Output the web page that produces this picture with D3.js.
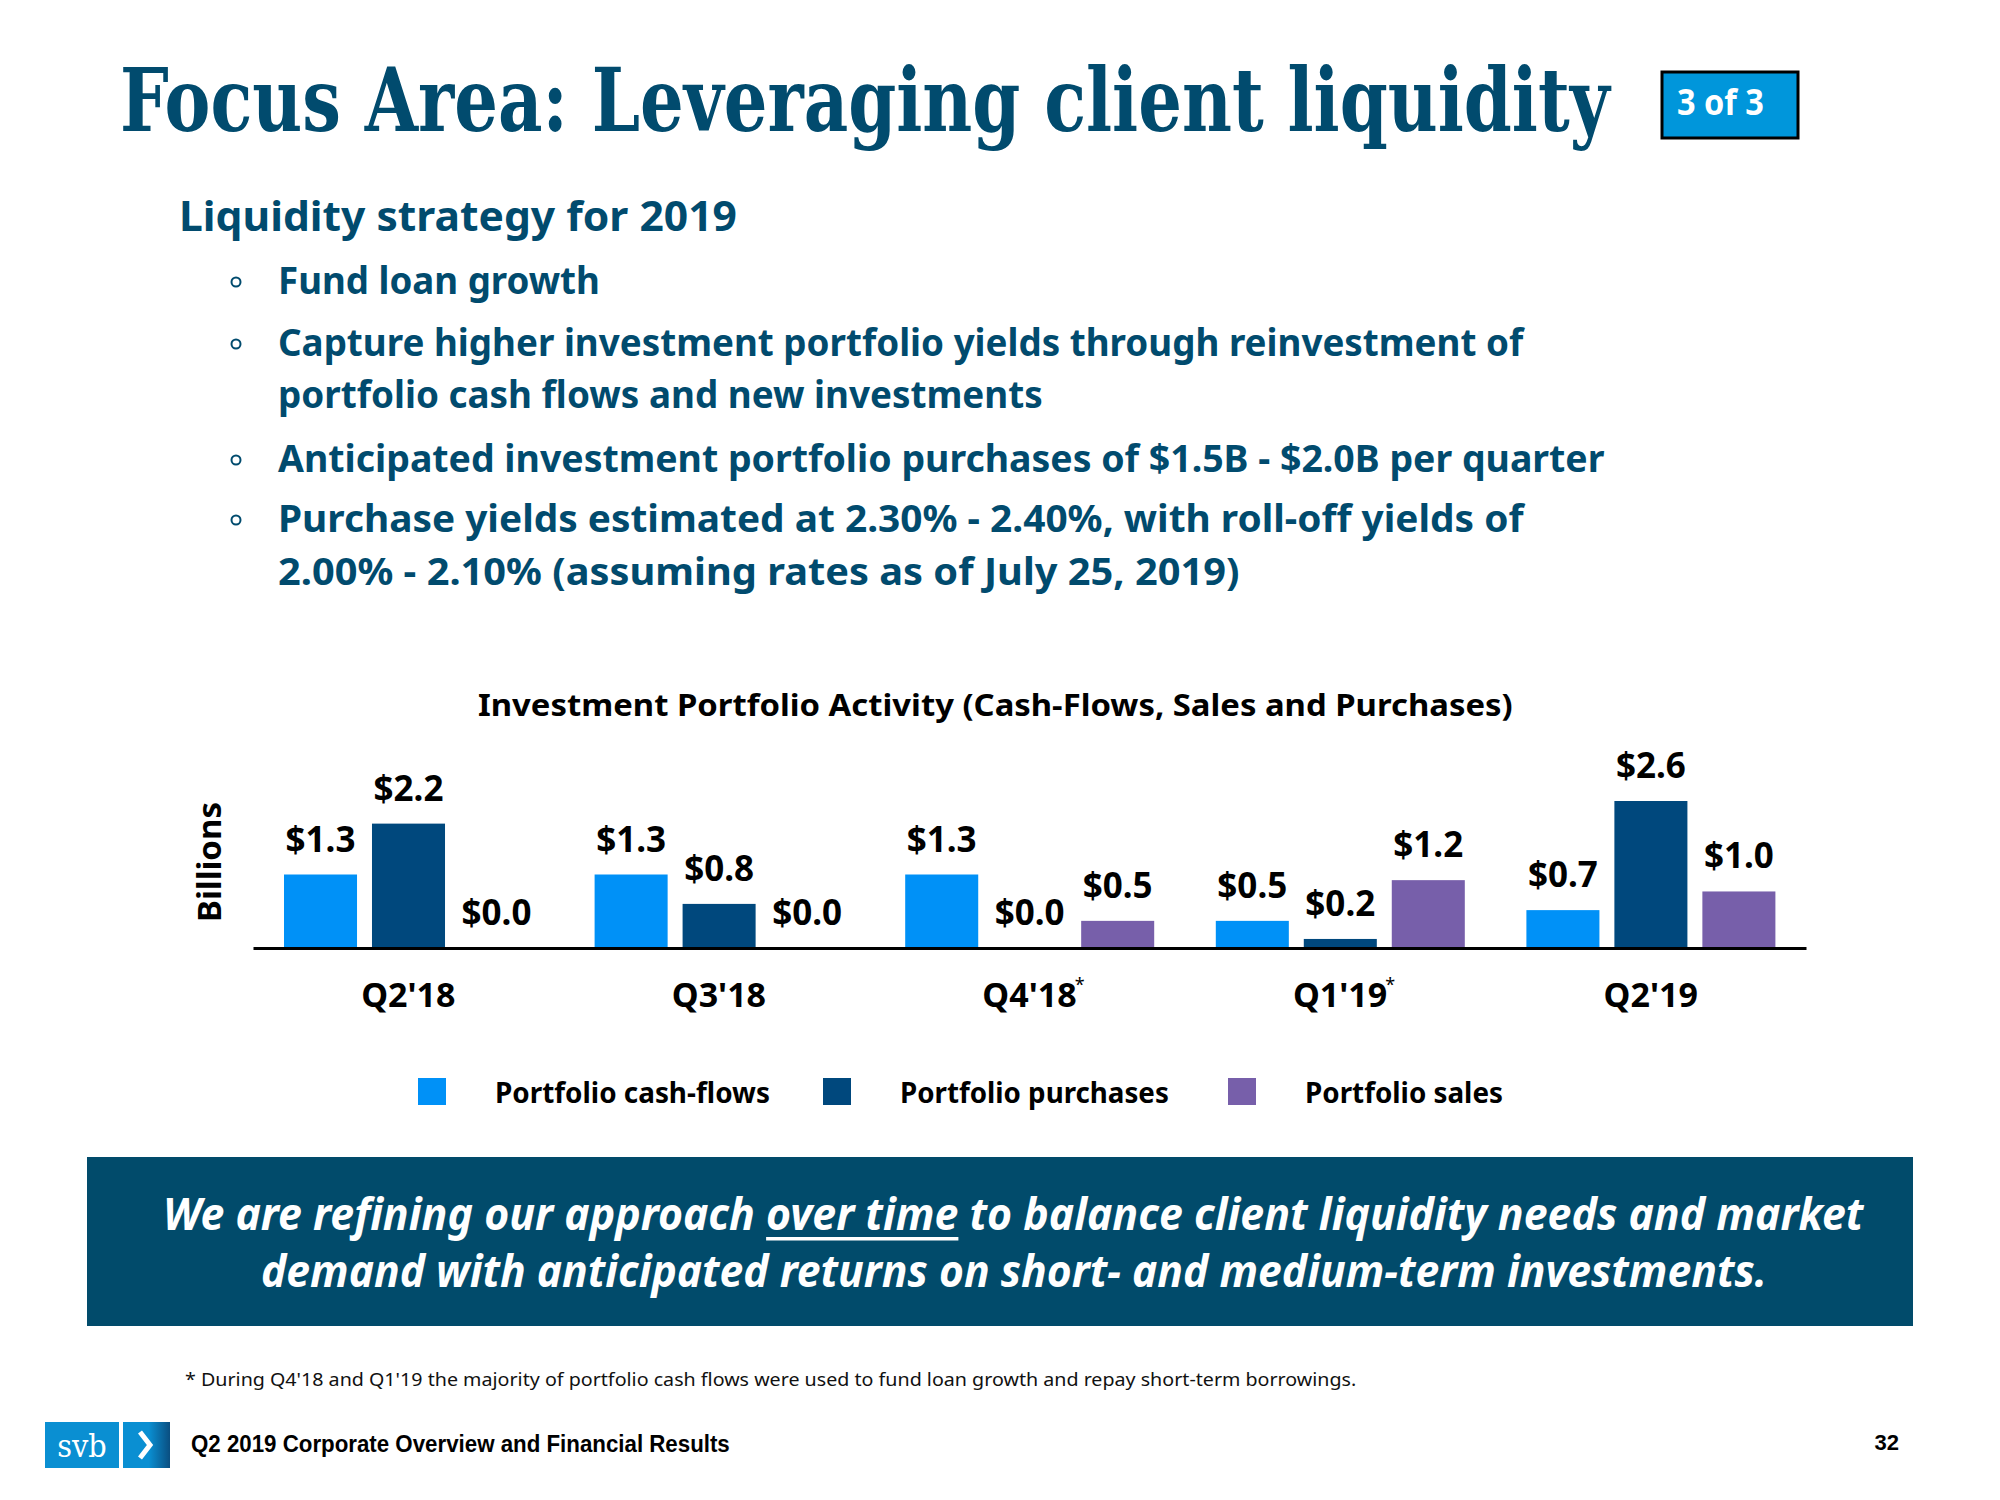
<!DOCTYPE html>
<html>
<head>
<meta charset="utf-8">
<script src="https://cdn.jsdelivr.net/npm/d3@7"></script>
<style>
  html, body { margin: 0; padding: 0; background: #ffffff; }
  svg { display: block; }
  .sans { font-family: "Noto Sans", "Open Sans", sans-serif; }
</style>
</head>
<body>
<svg id="chart" width="2000" height="1500"></svg>
<script>
// ---------------- DATA ----------------
const categories = ["Q2'18", "Q3'18", "Q4'18", "Q1'19", "Q2'19"];
const footnoteMarked = [false, false, true, true, false];
const seriesNames = ["Portfolio cash-flows", "Portfolio purchases", "Portfolio sales"];
const cashFlows = [1.3, 1.3, 1.3, 0.48, 0.67];
const purchases = [2.2, 0.78, 0.0, 0.16, 2.6];
const sales = [0.0, 0.0, 0.48, 1.2, 1.0];
const seriesColors = ["#0091F7", "#00487D", "#775FAA"];

const titleText = "Focus Area: Leveraging client liquidity";
const pageTag = "3 of 3";
const subtitleText = "Liquidity strategy for 2019";
const bulletLines = [
  ["Fund loan growth"],
  ["Capture higher investment portfolio yields through reinvestment of", "portfolio cash flows and new investments"],
  ["Anticipated investment portfolio purchases of $1.5B - $2.0B per quarter"],
  ["Purchase yields estimated at 2.30% - 2.40%, with roll-off yields of", "2.00% - 2.10% (assuming rates as of July 25, 2019)"]
];
const chartTitle = "Investment Portfolio Activity (Cash-Flows, Sales and Purchases)";
const yAxisLabel = "Billions";
const bannerPre = "We are refining our approach ";
const bannerUnder = "over time";
const bannerPost = " to balance client liquidity needs and market";
const bannerLine2 = "demand with anticipated returns on short- and medium-term investments.";
const footnoteText = "* During Q4'18 and Q1'19 the majority of portfolio cash flows were used to fund loan growth and repay short-term  borrowings.";
const footerText = "Q2 2019 Corporate Overview and Financial Results";
const pageNumber = "32";

// ---------------- SETUP ----------------
const TEAL = "#014B6E";
const svg = d3.select("#chart");

// Place a text at (x, baseline y) and scale it horizontally to width w.
function fitText(parent, x, y, w) {
  const t = parent.append("text").attr("x", 0).attr("y", 0);
  t.fitLater = () => {
    const len = t.node().getComputedTextLength();
    const sx = w / len;
    t.attr("transform", `translate(${x},${y}) scale(${sx},1)`);
    t.sx = sx;
  };
  return t;
}

// Title
const title = fitText(svg, 120, 131, 1490)
  .attr("font-family", "'DejaVu Serif Condensed', 'DejaVu Serif', serif")
  .style("font-stretch", "condensed")
  .attr("font-weight", "bold").attr("font-size", 88)
  .attr("fill", TEAL).text(titleText);
title.fitLater();

// "3 of 3" tag
svg.append("rect").attr("x", 1662).attr("y", 72).attr("width", 136).attr("height", 66)
  .attr("fill", "#0096DB").attr("stroke", "#000").attr("stroke-width", 3);
const tag = fitText(svg, 1677, 115, 87).attr("class", "sans")
  .attr("font-weight", "bold").attr("font-size", 36)
  .attr("fill", "#fff").text(pageTag);
tag.fitLater();

// Subtitle
const sub = fitText(svg, 179, 231, 558).attr("class", "sans")
  .attr("font-weight", "bold").attr("font-size", 42)
  .attr("fill", TEAL).text(subtitleText);
sub.fitLater();

// Bullets
const bulletBaselines = [[294], [356, 408], [472], [532, 585]];
const lineWidths = [[322], [1246, 765], [1327], [1246, 962]];
bulletLines.forEach((lines, i) => {
  svg.append("circle").attr("cx", 236).attr("cy", bulletBaselines[i][0] - 12).attr("r", 4.5)
    .attr("fill", "none").attr("stroke", TEAL).attr("stroke-width", 2);
  lines.forEach((ln, j) => {
    const t = fitText(svg, 278, bulletBaselines[i][j], lineWidths[i][j]).attr("class", "sans")
      .attr("font-weight", "bold").attr("font-size", 38)
      .attr("fill", TEAL).text(ln);
    t.fitLater();
  });
});

// ---------------- CHART ----------------
const ct = fitText(svg, 478, 716, 1035).attr("class", "sans")
  .attr("font-weight", "bold").attr("font-size", 31)
  .attr("fill", "#000").text(chartTitle);
ct.fitLater();

const seriesValues = [cashFlows, purchases, sales];
const rows = categories.map((c, i) => ({
  cat: c, vals: seriesNames.map((s, k) => ({ s, k, v: seriesValues[k][i] }))
}));

const baseY = 948;
const x0 = d3.scaleBand().domain(categories).range([253, 1806]).paddingInner(0).paddingOuter(0);
const x1 = d3.scaleBand().domain(seriesNames).range([31, 280]).paddingInner(0.17).paddingOuter(0);
const allVals = seriesValues.flat();
const y = d3.scaleLinear().domain([0, d3.max(allVals)]).range([baseY, 801]);
const color = d3.scaleOrdinal().domain(seriesNames).range(seriesColors);
const fmt = d3.format("$.1f");

const groups = svg.append("g").selectAll("g").data(rows).join("g")
  .attr("transform", d => `translate(${x0(d.cat)},0)`);

groups.selectAll("rect").data(d => d.vals).join("rect")
  .attr("x", d => x1(d.s)).attr("width", x1.bandwidth())
  .attr("y", d => y(d.v)).attr("height", d => baseY - y(d.v))
  .attr("fill", d => color(d.s));

groups.selectAll("text.val").data(d => d.vals).join("text")
  .attr("class", "val sans")
  .attr("x", d => x1(d.s) + x1.bandwidth() / 2)
  .attr("y", d => y(d.v) - 23)
  .attr("text-anchor", "middle").attr("font-weight", "bold").attr("font-size", 35)
  .attr("fill", "#000").text(d => fmt(d.v));

// Axis
const axis = svg.append("g").attr("transform", `translate(0,${baseY})`)
  .call(d3.axisBottom(x0).tickSize(0).tickSizeOuter(0).tickPadding(35));
axis.select(".domain").attr("stroke", "#000").attr("stroke-width", 3);
axis.selectAll(".tick text")
  .attr("font-family", "'Noto Sans', 'Open Sans', sans-serif")
  .attr("font-weight", "bold").attr("font-size", 34).attr("fill", "#000");
axis.selectAll(".tick").each(function (d, i) {
  if (!footnoteMarked[i]) return;
  const t = d3.select(this).select("text").node();
  const bb = t.getBBox();
  d3.select(this).append("text")
    .attr("x", bb.x + bb.width + 3).attr("y", 43)
    .attr("font-family", "'Noto Sans', sans-serif").attr("font-size", 18)
    .attr("fill", "#000").text("*");
});

// Y label
svg.append("text").attr("class", "sans")
  .attr("transform", "translate(221,862) rotate(-90)")
  .attr("text-anchor", "middle").attr("font-weight", "bold").attr("font-size", 33)
  .attr("fill", "#000").text(yAxisLabel);

// Legend
const legendWidths = [275, 269, 198];
const lg = svg.append("g").selectAll("g").data(seriesNames).join("g")
  .attr("transform", (d, i) => `translate(${418 + i * 405},1078)`);
lg.append("rect").attr("width", 28).attr("height", 27).attr("fill", d => color(d));
lg.each(function (d, i) {
  const t = fitText(d3.select(this), 77, 25, legendWidths[i]).attr("class", "sans")
    .attr("font-weight", "bold").attr("font-size", 29)
    .attr("fill", "#000").text(d);
  t.fitLater();
});

// ---------------- BANNER ----------------
svg.append("rect").attr("x", 87).attr("y", 1157).attr("width", 1826).attr("height", 169).attr("fill", "#014B6B");
const b1 = fitText(svg, 163, 1230, 1701).attr("class", "sans")
  .attr("font-weight", "bold").attr("font-style", "italic")
  .attr("font-size", 44).attr("fill", "#fff");
b1.append("tspan").text(bannerPre);
b1.append("tspan").text(bannerUnder);
b1.append("tspan").text(bannerPost);
b1.fitLater();
{
  const node = b1.node();
  const s = bannerPre.length, e = bannerPre.length + bannerUnder.length - 1;
  const ux1 = node.getStartPositionOfChar(s).x * b1.sx + 163;
  const ux2 = node.getEndPositionOfChar(e).x * b1.sx + 163;
  svg.append("rect").attr("x", ux1).attr("y", 1237).attr("width", ux2 - ux1).attr("height", 3.5).attr("fill", "#fff");
}
const b2 = fitText(svg, 261, 1287, 1506).attr("class", "sans")
  .attr("font-weight", "bold").attr("font-style", "italic")
  .attr("font-size", 44).attr("fill", "#fff").text(bannerLine2);
b2.fitLater();

// Footnote
const fn = fitText(svg, 185, 1386, 1172).attr("class", "sans")
  .attr("font-size", 18).attr("fill", "#111").text(footnoteText);
fn.fitLater();

// ---------------- FOOTER ----------------
svg.append("rect").attr("x", 45).attr("y", 1422).attr("width", 74).attr("height", 46).attr("fill", "#0A8FD2");
const grad = svg.append("defs").append("linearGradient").attr("id", "chevGrad");
grad.append("stop").attr("offset", "0%").attr("stop-color", "#0A8FD2");
grad.append("stop").attr("offset", "55%").attr("stop-color", "#0A8FD2");
grad.append("stop").attr("offset", "100%").attr("stop-color", "#0A4E80");
svg.append("rect").attr("x", 123).attr("y", 1422).attr("width", 47).attr("height", 46).attr("fill", "url(#chevGrad)");
svg.append("text").attr("x", 82).attr("y", 1457).attr("text-anchor", "middle")
  .attr("font-family", "'DejaVu Serif Condensed', 'DejaVu Serif', serif").attr("font-size", 32)
  .attr("fill", "#fff").text("svb");
svg.append("path").attr("d", "M140,1432 L150,1445 L140,1458")
  .attr("fill", "none").attr("stroke", "#fff").attr("stroke-width", 5).attr("stroke-linejoin", "miter");

const ft = fitText(svg, 191, 1452, 539)
  .attr("font-family", "'Liberation Sans', Arial, sans-serif").attr("font-weight", "bold")
  .attr("font-size", 23).attr("fill", "#000").text(footerText);
ft.fitLater();
svg.append("text").attr("x", 1899).attr("y", 1450).attr("text-anchor", "end")
  .attr("font-family", "'Liberation Sans', Arial, sans-serif").attr("font-weight", "bold")
  .attr("font-size", 22).attr("fill", "#000").text(pageNumber);
</script>
</body>
</html>
